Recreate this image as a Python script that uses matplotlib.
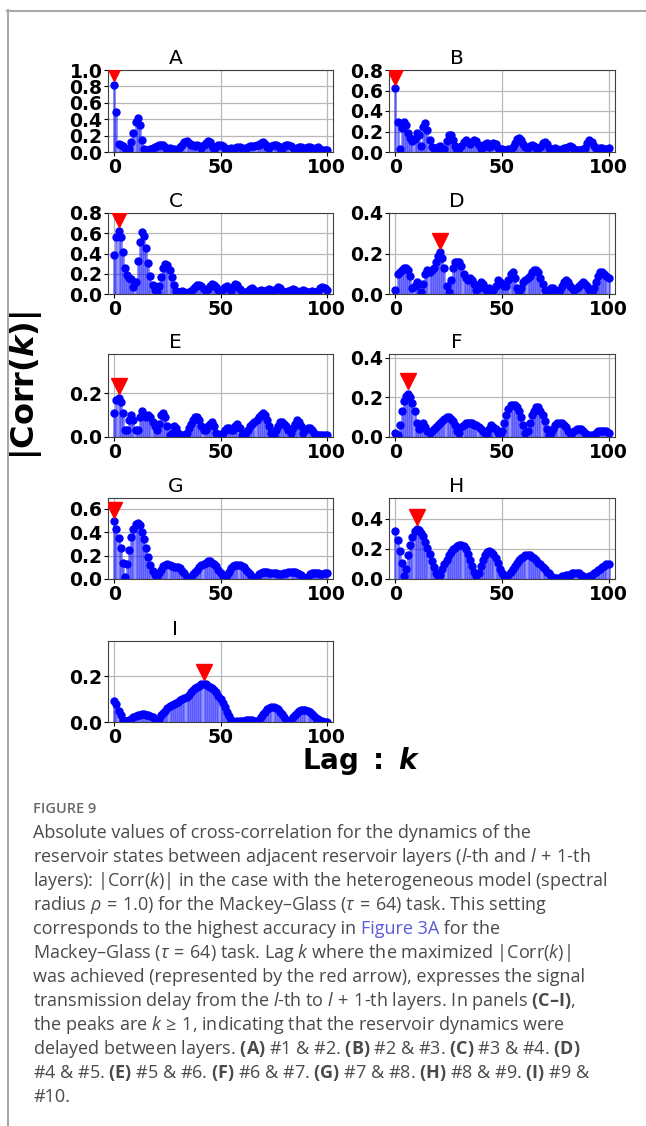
import numpy as np
import matplotlib
matplotlib.use('Agg')
import matplotlib.pyplot as plt
from matplotlib.lines import Line2D

# |Corr(k)| for lag k = 0..100, one list per pair of layers
lags = np.arange(101)

corr_a = [0.82, 0.49, 0.10, 0.08, 0.07, 0.05, 0.04, 0.04, 0.12, 0.23,
          0.36, 0.42, 0.33, 0.15, 0.04, 0.03, 0.03, 0.04, 0.05, 0.06,
          0.07, 0.08, 0.09, 0.08, 0.06, 0.04, 0.05, 0.04, 0.04, 0.03,
          0.04, 0.06, 0.09, 0.12, 0.13, 0.11, 0.09, 0.08, 0.07, 0.08,
          0.07, 0.05, 0.08, 0.11, 0.14, 0.12, 0.07, 0.04, 0.06, 0.09,
          0.09, 0.07, 0.05, 0.04, 0.04, 0.05, 0.03, 0.05, 0.06, 0.06,
          0.05, 0.04, 0.05, 0.06, 0.07, 0.07, 0.07, 0.08, 0.09, 0.11,
          0.12, 0.10, 0.06, 0.05, 0.07, 0.08, 0.08, 0.07, 0.05, 0.04,
          0.07, 0.09, 0.08, 0.07, 0.05, 0.04, 0.05, 0.06, 0.06, 0.04,
          0.05, 0.06, 0.06, 0.05, 0.04, 0.05, 0.06, 0.04, 0.03, 0.02,
          0.02]
corr_b = [0.62, 0.29, 0.03, 0.23, 0.29, 0.26, 0.19, 0.14, 0.11, 0.13,
          0.19, 0.17, 0.06, 0.24, 0.28, 0.21, 0.12, 0.05, 0.04, 0.03,
          0.05, 0.06, 0.04, 0.03, 0.11, 0.17, 0.17, 0.12, 0.06, 0.02,
          0.03, 0.06, 0.10, 0.12, 0.10, 0.08, 0.10, 0.12, 0.11, 0.07,
          0.03, 0.05, 0.08, 0.09, 0.05, 0.06, 0.09, 0.08, 0.04, 0.03,
          0.03, 0.02, 0.02, 0.03, 0.03, 0.05, 0.09, 0.13, 0.14, 0.12,
          0.08, 0.05, 0.04, 0.06, 0.07, 0.06, 0.04, 0.03, 0.05, 0.09,
          0.10, 0.08, 0.04, 0.02, 0.03, 0.04, 0.03, 0.02, 0.03, 0.04,
          0.04, 0.05, 0.06, 0.05, 0.03, 0.02, 0.02, 0.02, 0.03, 0.04,
          0.09, 0.12, 0.10, 0.06, 0.04, 0.03, 0.04, 0.04, 0.03, 0.03,
          0.04]
corr_c = [0.39, 0.56, 0.62, 0.56, 0.41, 0.26, 0.19, 0.16, 0.15, 0.07,
          0.12, 0.33, 0.51, 0.61, 0.57, 0.45, 0.31, 0.18, 0.09, 0.04,
          0.02, 0.08, 0.17, 0.26, 0.30, 0.29, 0.24, 0.17, 0.09, 0.03,
          0.02, 0.02, 0.03, 0.02, 0.01, 0.02, 0.03, 0.05, 0.07, 0.09,
          0.09, 0.08, 0.05, 0.03, 0.05, 0.08, 0.10, 0.09, 0.07, 0.04,
          0.03, 0.05, 0.07, 0.08, 0.06, 0.03, 0.07, 0.10, 0.09, 0.05,
          0.02, 0.02, 0.01, 0.03, 0.05, 0.06, 0.04, 0.02, 0.03, 0.04,
          0.03, 0.02, 0.04, 0.05, 0.04, 0.03, 0.05, 0.07, 0.06, 0.03,
          0.02, 0.02, 0.03, 0.04, 0.05, 0.04, 0.02, 0.02, 0.03, 0.04,
          0.03, 0.02, 0.02, 0.03, 0.02, 0.02, 0.03, 0.06, 0.07, 0.06,
          0.04]
corr_d = [0.02, 0.10, 0.11, 0.12, 0.13, 0.13, 0.12, 0.09, 0.03, 0.04,
          0.06, 0.05, 0.01, 0.05, 0.10, 0.12, 0.11, 0.12, 0.13, 0.16,
          0.19, 0.205, 0.18, 0.13, 0.04, 0.01, 0.07, 0.13, 0.16, 0.16,
          0.16, 0.14, 0.10, 0.08, 0.07, 0.08, 0.07, 0.05, 0.02, 0.03,
          0.06, 0.05, 0.03, 0.01, 0.03, 0.02, 0.02, 0.04, 0.07, 0.06,
          0.05, 0.04, 0.04, 0.07, 0.10, 0.11, 0.08, 0.03, 0.01, 0.03,
          0.06, 0.07, 0.08, 0.09, 0.11, 0.12, 0.12, 0.11, 0.08, 0.05,
          0.02, 0.01, 0.02, 0.03, 0.03, 0.02, 0.01, 0.02, 0.04, 0.06,
          0.07, 0.06, 0.04, 0.03, 0.02, 0.03, 0.04, 0.05, 0.06, 0.05,
          0.04, 0.02, 0.01, 0.03, 0.06, 0.09, 0.11, 0.11, 0.10, 0.09,
          0.08]
corr_e = [0.11, 0.17, 0.18, 0.16, 0.11, 0.03, 0.03, 0.08, 0.10, 0.08,
          0.03, 0.03, 0.09, 0.12, 0.10, 0.09, 0.10, 0.09, 0.07, 0.05,
          0.03, 0.06, 0.10, 0.11, 0.09, 0.05, 0.01, 0.02, 0.05, 0.04,
          0.02, 0.01, 0.01, 0.01, 0.02, 0.04, 0.06, 0.08, 0.09, 0.09,
          0.08, 0.05, 0.03, 0.03, 0.05, 0.06, 0.07, 0.05, 0.02, 0.01,
          0.01, 0.02, 0.03, 0.04, 0.04, 0.03, 0.03, 0.05, 0.06, 0.04,
          0.01, 0.01, 0.02, 0.03, 0.05, 0.06, 0.07, 0.08, 0.09, 0.10,
          0.11, 0.10, 0.08, 0.05, 0.02, 0.01, 0.03, 0.05, 0.07, 0.07,
          0.06, 0.05, 0.03, 0.02, 0.04, 0.06, 0.08, 0.07, 0.05, 0.02,
          0.03, 0.04, 0.04, 0.03, 0.02, 0.01, 0.01, 0.01, 0.01, 0.01,
          0.01]
corr_f = [0.02, 0.01, 0.06, 0.13, 0.18, 0.21, 0.22, 0.20, 0.17, 0.13,
          0.07, 0.04, 0.06, 0.07, 0.05, 0.03, 0.02, 0.03, 0.04, 0.05,
          0.06, 0.07, 0.08, 0.09, 0.10, 0.10, 0.09, 0.08, 0.06, 0.03,
          0.02, 0.05, 0.06, 0.07, 0.07, 0.07, 0.07, 0.06, 0.06, 0.05,
          0.04, 0.03, 0.02, 0.01, 0.04, 0.06, 0.05, 0.04, 0.02, 0.01,
          0.03, 0.07, 0.11, 0.14, 0.16, 0.16, 0.16, 0.15, 0.13, 0.10,
          0.06, 0.02, 0.03, 0.07, 0.11, 0.13, 0.15, 0.15, 0.13, 0.11,
          0.08, 0.04, 0.01, 0.02, 0.04, 0.06, 0.07, 0.07, 0.07, 0.06,
          0.05, 0.03, 0.02, 0.02, 0.03, 0.04, 0.04, 0.04, 0.03, 0.02,
          0.01, 0.01, 0.01, 0.01, 0.02, 0.03, 0.03, 0.03, 0.03, 0.03,
          0.02]
corr_g = [0.49, 0.43, 0.35, 0.26, 0.14, 0.02, 0.13, 0.25, 0.36, 0.43,
          0.47, 0.48, 0.46, 0.40, 0.34, 0.26, 0.19, 0.12, 0.07, 0.03,
          0.02, 0.05, 0.08, 0.11, 0.12, 0.13, 0.12, 0.11, 0.10, 0.10,
          0.10, 0.09, 0.07, 0.05, 0.02, 0.01, 0.02, 0.04, 0.06, 0.08,
          0.10, 0.12, 0.13, 0.14, 0.15, 0.15, 0.14, 0.13, 0.11, 0.08,
          0.05, 0.02, 0.01, 0.03, 0.06, 0.09, 0.11, 0.12, 0.12, 0.12,
          0.11, 0.10, 0.08, 0.06, 0.04, 0.02, 0.01, 0.02, 0.04, 0.05,
          0.06, 0.06, 0.06, 0.05, 0.05, 0.05, 0.05, 0.04, 0.04, 0.04,
          0.05, 0.05, 0.06, 0.06, 0.06, 0.06, 0.05, 0.04, 0.03, 0.02,
          0.01, 0.02, 0.04, 0.05, 0.05, 0.05, 0.05, 0.04, 0.04, 0.05,
          0.05]
corr_h = [0.32, 0.26, 0.19, 0.11, 0.02, 0.07, 0.16, 0.23, 0.28, 0.32,
          0.335, 0.33, 0.31, 0.29, 0.25, 0.21, 0.17, 0.12, 0.08, 0.04,
          0.02, 0.03, 0.07, 0.10, 0.13, 0.16, 0.18, 0.20, 0.21, 0.22,
          0.23, 0.23, 0.22, 0.20, 0.17, 0.13, 0.09, 0.05, 0.02, 0.04,
          0.09, 0.13, 0.16, 0.18, 0.19, 0.18, 0.17, 0.14, 0.11, 0.07,
          0.04, 0.02, 0.01, 0.03, 0.05, 0.07, 0.09, 0.11, 0.13, 0.14,
          0.15, 0.16, 0.16, 0.16, 0.15, 0.14, 0.13, 0.11, 0.10, 0.08,
          0.07, 0.05, 0.04, 0.02, 0.01, 0.01, 0.01, 0.01, 0.02, 0.02,
          0.03, 0.03, 0.03, 0.04, 0.04, 0.04, 0.04, 0.03, 0.02, 0.01,
          0.01, 0.02, 0.03, 0.04, 0.05, 0.06, 0.07, 0.08, 0.09, 0.10,
          0.10]
corr_i = [0.093, 0.08, 0.05, 0.03, 0.01, 0.005, 0.005, 0.01, 0.015, 0.02,
          0.025, 0.03, 0.032, 0.033, 0.033, 0.032, 0.03, 0.025, 0.02, 0.01,
          0.005, 0.015, 0.03, 0.04, 0.05, 0.06, 0.07, 0.075, 0.08, 0.085,
          0.09, 0.095, 0.10, 0.105, 0.11, 0.12, 0.13, 0.14, 0.15, 0.155,
          0.16, 0.165, 0.167, 0.165, 0.16, 0.155, 0.15, 0.14, 0.13, 0.115,
          0.10, 0.085, 0.065, 0.045, 0.025, 0.01, 0.003, 0.002, 0.003, 0.003,
          0.004, 0.006, 0.008, 0.01, 0.01, 0.008, 0.005, 0.003, 0.01, 0.02,
          0.035, 0.045, 0.055, 0.062, 0.066, 0.066, 0.063, 0.055, 0.045, 0.035,
          0.022, 0.01, 0.003, 0.01, 0.02, 0.03, 0.04, 0.047, 0.052, 0.053,
          0.052, 0.048, 0.042, 0.035, 0.027, 0.019, 0.012, 0.006, 0.003, 0.002,
          0.002]

panel_names = ['A', 'B', 'C', 'D', 'E', 'F', 'G', 'H', 'I']
panel_data = [corr_a, corr_b, corr_c, corr_d, corr_e, corr_f, corr_g, corr_h, corr_i]
y_tops = [1.0, 0.8, 0.8, 0.4, 0.38, 0.42, 0.69, 0.54, 0.356]
y_ticks = [[0, 0.2, 0.4, 0.6, 0.8, 1.0], [0, 0.2, 0.4, 0.6, 0.8],
           [0, 0.2, 0.4, 0.6, 0.8], [0, 0.2, 0.4], [0, 0.2], [0, 0.2, 0.4],
           [0, 0.2, 0.4, 0.6], [0, 0.2, 0.4], [0, 0.2]]
x_ticks = [0, 50, 100]

caption_lines = [
    'Absolute values of cross-correlation for the dynamics of the',
    r'reservoir states between adjacent reservoir layers ($l$-th and $l\,+\,1$-th',
    r'layers): |Corr($k$)| in the case with the heterogeneous model (spectral',
    r'radius $\rho\,=\,1.0$) for the Mackey–Glass ($\tau\,=\,64$) task. This setting',
    None,
    r'Mackey–Glass ($\tau\,=\,64$) task. Lag $k$ where the maximized |Corr($k$)|',
    'was achieved (represented by the red arrow), expresses the signal',
    r'transmission delay from the $l$-th to $l\,+\,1$-th layers. In panels $\mathbf{(C–I)}$,',
    r'the peaks are $k\,\geq\,1$, indicating that the reservoir dynamics were',
    r'delayed between layers. $\mathbf{(A)}$ #1 & #2. $\mathbf{(B)}$ #2 & #3. $\mathbf{(C)}$ #3 & #4. $\mathbf{(D)}$',
    r'#4 & #5. $\mathbf{(E)}$ #5 & #6. $\mathbf{(F)}$ #6 & #7. $\mathbf{(G)}$ #7 & #8. $\mathbf{(H)}$ #8 & #9. $\mathbf{(I)}$ #9 &',
    '#10.',
]

plt.rcParams['mathtext.fontset'] = 'custom'
plt.rcParams['mathtext.rm'] = 'Open Sans'
plt.rcParams['mathtext.it'] = 'Open Sans:italic'
plt.rcParams['mathtext.bf'] = 'Open Sans:bold'

W, H = 646, 1126
fig = plt.figure(figsize=(W / 100, H / 100), dpi=100)

# axes boxes in pixels
col_x = [(108, 333), (389, 615)]
row_y = [(70, 152), (213, 294), (354, 437), (498, 579), (641, 722)]

for n, (name, vals) in enumerate(zip(panel_names, panel_data)):
    r, c = divmod(n, 2)
    x0, x1 = col_x[c]
    y0, y1 = row_y[r]
    ax = fig.add_axes([x0 / W, 1 - y1 / H, (x1 - x0) / W, (y1 - y0) / H])
    ml, sl, bl = ax.stem(lags, vals, linefmt='b-', markerfmt='bo', basefmt=' ')
    plt.setp(sl, linewidth=1.8, alpha=0.55)
    plt.setp(ml, markersize=5)
    top = y_tops[n]
    kmax = int(np.argmax(vals))
    ax.plot(kmax, vals[kmax] + 0.145 * top, 'rv', markersize=11, zorder=5)
    ax.set_xlim(-3, 103)
    ax.set_ylim(0, top)
    ax.set_xticks(x_ticks, labels=[str(t) for t in x_ticks],
                  fontsize=13.5, fontweight='bold')
    ax.set_yticks(y_ticks[n], labels=['%.1f' % t for t in y_ticks[n]],
                  fontsize=13.5, fontweight='bold')
    ax.grid(True, color='#b8b8b8', linewidth=0.9)
    ax.set_axisbelow(True)
    for s in ax.spines.values():
        s.set_color('#404040')
    ax.tick_params(length=3, pad=1)
    ax.text(0.30, 1.075, name, transform=ax.transAxes, ha='center',
            va='baseline', fontsize=14.5)

fig.text(26 / W, 1 - 386 / H, r'$\mathbf{|Corr(}\mathbfit{k}\mathbf{)|}$',
         rotation=90, ha='center', va='center', fontsize=23,
         math_fontfamily='dejavusans')
fig.text(361 / W, 1 - 761 / H, r'$\mathbf{Lag\ :\ }\mathbfit{k}$',
         ha='center', va='center', fontsize=20, math_fontfamily='dejavusans')

# card border
fig.add_artist(Line2D([7.5 / W, 7.5 / W], [0, 1 - 10 / H],
                      transform=fig.transFigure, color='#a8a8a8', lw=1.5))
fig.add_artist(Line2D([7 / W, 1], [1 - 10.5 / H, 1 - 10.5 / H],
                      transform=fig.transFigure, color='#a8a8a8', lw=1.5))

# caption
cap_x = 33 / W
cap_size = 13.0
fig.text(cap_x, 1 - 809 / H, 'FIGURE 9', fontsize=10.5, color='#6a6a6a',
         family='Open Sans', weight='semibold', va='center')
for i, line in enumerate(caption_lines):
    y = 1 - (833 + 24 * i) / H
    if line is None:
        renderer = fig.canvas.get_renderer()
        x = cap_x
        for part, col in [('corresponds to the highest accuracy in ', '#4a4a4a'),
                          ('Figure 3A', '#5b5bd9'), (' for the', '#4a4a4a')]:
            t = fig.text(x, y, part, fontsize=cap_size, color=col,
                         family='Open Sans', va='center')
            x += t.get_window_extent(renderer).width / W
        continue
    fig.text(cap_x, y, line, fontsize=cap_size, color='#4a4a4a',
             family='Open Sans', va='center')

fig.savefig('out.png', dpi=100)
